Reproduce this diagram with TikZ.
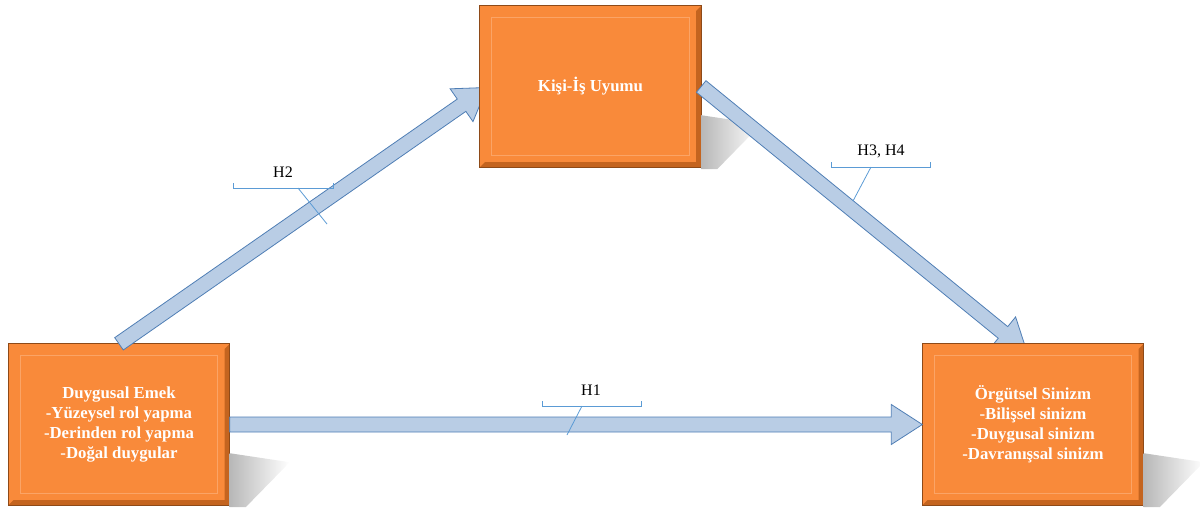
\documentclass[tikz,border=0pt]{standalone}
\usepackage{fontspec}
\setmainfont{Liberation Serif}
\usepackage{tikz}
\usetikzlibrary{calc,positioning}
\definecolor{boxfill}{HTML}{F98A3A}
\definecolor{boxedge}{HTML}{8E4A18}
\definecolor{bevdark}{HTML}{C4641F}
\definecolor{bevline}{HTML}{FBA466}
\definecolor{arrowfill}{HTML}{B9CDE5}
\definecolor{arrowedge}{HTML}{4F7EB5}
\definecolor{calloutline}{HTML}{5B9BD5}

% block arrow: name, start, tip
\newcommand\blockarrow[3]{%
  \coordinate (#1s) at (#2);
  \coordinate (#1e) at (#3);
  \coordinate (#1h) at ($(#1e)!31pt!(#1s)$);
  \draw[blockarr] ($(#1s)!7.5pt!90:(#1e)$) -- ($(#1h)!7.5pt!90:(#1e)$)
    -- ($(#1h)!20pt!90:(#1e)$) -- (#1e) -- ($(#1h)!20pt!-90:(#1e)$)
    -- ($(#1h)!7.5pt!-90:(#1e)$) -- ($(#1s)!7.5pt!-90:(#1e)$) -- cycle;}

% bevel edges of a box
\newcommand\bevel[1]{%
  \fill[bevdark] (#1.north east) -- (#1.south east) -- (#1.south west)
    -- ($(#1.south west)+(5,-5)$) -- ($(#1.south east)+(-5,-5)$)
    -- ($(#1.north east)+(-5,5)$) -- cycle;
  \draw[bevline, line width=0.8pt] ($(#1.north west)+(12,12)$) rectangle ($(#1.south east)+(-12,-12)$);
  \draw[boxedge, line width=0.8pt] (#1.north west) rectangle (#1.south east);}

% perspective shadow, right of the box
\newcommand\boxshadow[1]{%
  \shade[left color=black!28, right color=white]
    ($(#1.south east)+(0,-52)$) -- ++(60,9) -- ($(#1.south east)+(16,2)$)
    -- ($(#1.south east)+(0,2)$) -- cycle;}

\begin{document}
\begin{tikzpicture}[x=1pt, y=-1pt,
    conbox/.style={fill=boxfill, text=white, align=center, inner sep=0pt,
                   font=\fontsize{16.8}{20}\selectfont\bfseries,
                   minimum width=221pt, minimum height=161pt},
    blockarr/.style={draw=arrowedge, line width=0.8pt, fill=arrowfill, line join=miter},
    hyplabel/.style={font=\fontsize{16}{18}\selectfont, inner sep=1pt},
    callout/.style={draw=calloutline, line width=0.8pt}
  ]
  \useasboundingbox (0,0) rectangle (1200,507);

  % boxes and arrows
  \node[conbox] (emek) at (119,424.5)
    {Duygusal Emek\\-Yüzeysel rol yapma\\-Derinden rol yapma\\-Doğal duygular};
  \bevel{emek}
  \boxshadow{emek}
  \blockarrow{hii}{emek.north}{487,87.5}

  \node[conbox] (uyum) at (590.5,86.5) {Kişi-İş Uyumu};
  \bevel{uyum}
  \boxshadow{uyum}
  \blockarrow{hiii}{uyum.east}{1027,352}

  \node[conbox] (sinizm) at (1033,424.5)
    {Örgütsel Sinizm\\-Bilişsel sinizm\\-Duygusal sinizm\\-Davranışsal sinizm};
  \bevel{sinizm}
  \boxshadow{sinizm}
  \blockarrow{hi}{emek.east}{sinizm.west}

  % hypothesis callouts
  \node[hyplabel] (h2) at (283,172) {H2};
  \draw[callout] (233,183) |- (333,188) -- ++(0,-5);
  \coordinate (h2bar) at (298,188);
  \coordinate (h2tip) at (327,224);
  \draw[callout] (h2bar) -- (h2tip);

  \node[hyplabel] (h1) at (591,390) {H1};
  \draw[callout] (542,401) |- (641,406) -- ++(0,-5);
  \coordinate (h1bar) at (582,406);
  \coordinate (h1tip) at (567,435);
  \draw[callout] (h1bar) -- (h1tip);

  \node[hyplabel] (h34) at (881,151) {H3, H4};
  \draw[callout] (831,162) |- (930,167) -- ++(0,-5);
  \coordinate (h34bar) at (871,167);
  \coordinate (h34tip) at (853,201);
  \draw[callout] (h34bar) -- (h34tip);
\end{tikzpicture}
\end{document}
